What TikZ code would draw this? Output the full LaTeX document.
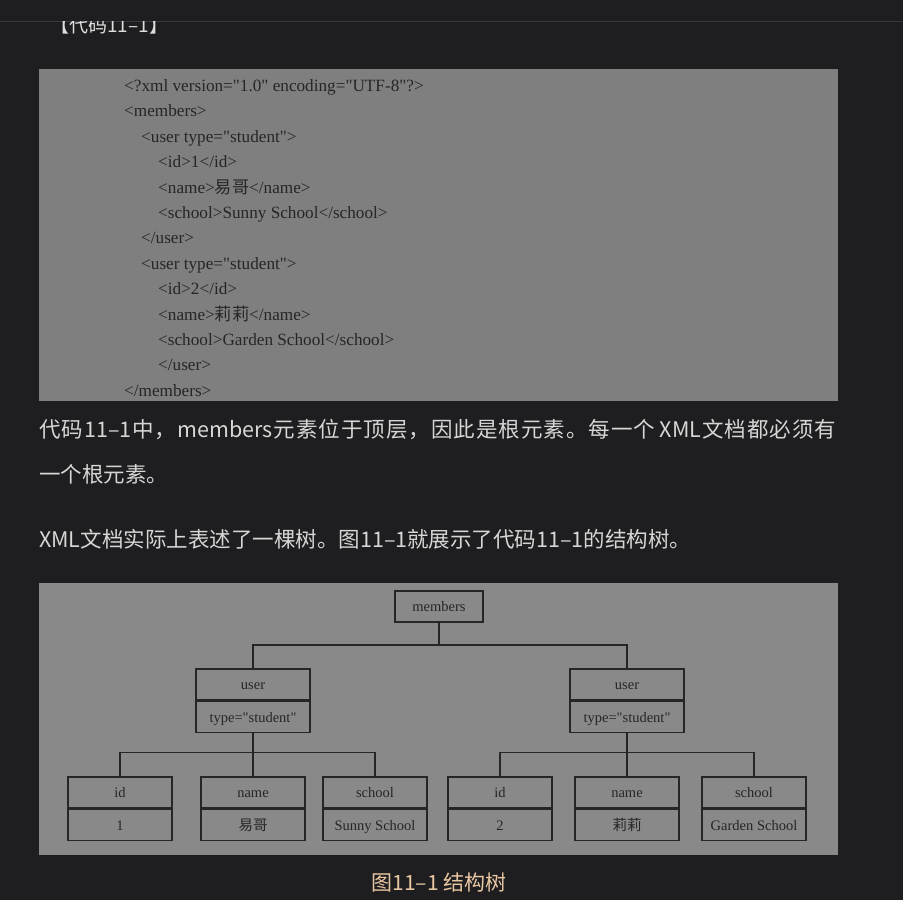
\documentclass[tikz,border=0pt]{standalone}
\usepackage{fontspec}
\setmainfont{Liberation Serif}
\newfontfamily\plainserif{Liberation Serif}
\newfontfamily\cjk{Noto Sans CJK SC}
\newcommand{\dq}{\char34\relax}
\newcommand{\js}{\hskip 0pt plus 1fil\relax}
\definecolor{pagebg}{HTML}{1E1E20}
\definecolor{codebg}{HTML}{7F7F7F}
\definecolor{figbg}{HTML}{898989}
\definecolor{ink}{HTML}{262626}
\definecolor{bodytext}{HTML}{D6D6D6}
\definecolor{captext}{HTML}{EAC7A3}
\definecolor{rulecol}{HTML}{3A3A3C}
\begin{document}
\begin{tikzpicture}[x=1pt,y=-1pt,
  codeline/.style={anchor=base west, inner sep=0pt, font=\plainserif\fontsize{17.2}{19}\selectfont, text=ink},
  bodyline/.style={anchor=base west, inner sep=0pt, font=\cjk\fontsize{21.5}{24}\selectfont, text=bodytext},
  cell/.style={draw=ink, line width=1.4pt, minimum height=31pt, inner sep=0pt, text height=11pt, text depth=0.5pt, font=\plainserif\fontsize{14.5}{16}\selectfont, text=ink},
  leafcell/.style={cell, minimum width=104pt},
  usercell/.style={cell, minimum width=114pt},
  link/.style={draw=ink, line width=1.1pt}]
% page
\fill[pagebg] (0,0) rectangle (903,900);
\useasboundingbox (0,0) rectangle (903,900);
\draw[rulecol, line width=1pt] (0,21) -- (903,21);
\begin{scope}
  \clip (0,21.6) rectangle (903,60);
  \node[anchor=base west, inner sep=0pt, font=\cjk\fontsize{19}{22}\selectfont, text=bodytext!80!white] (hdr) at (50,32.5) {【代码11–1】};
\end{scope}
% code block
\fill[codebg] (39,69) rectangle (838,401);
\node[codeline] (c0) at (124,91.5) {<?xml version="1.0" encoding="UTF-8"?>};
\node[codeline] (c1) at (124,116.9) {<members>};
\node[codeline] (c2) at (141,142.3) {<user type="student">};
\node[codeline] (c3) at (158,167.7) {<id>1</id>};
\node[codeline] (c4) at (158,193.1) {<name>{\cjk 易哥}</name>};
\node[codeline] (c5) at (158,218.5) {<school>Sunny School</school>};
\node[codeline] (c6) at (141,243.9) {</user>};
\node[codeline] (c7) at (141,269.3) {<user type="student">};
\node[codeline] (c8) at (158,294.7) {<id>2</id>};
\node[codeline] (c9) at (158,320.1) {<name>{\cjk 莉莉}</name>};
\node[codeline] (c10) at (158,345.5) {<school>Garden School</school>};
\node[codeline] (c11) at (158,370.9) {</user>};
\node[codeline] (c12) at (124,396.3) {</members>};
% body text
\node[bodyline] (p1) at (39,437) {\makebox[797pt][s]{代\js 码\js 11–1\js 中\js ，\js members\js 元\js 素\js 位\js 于\js 顶\js 层\js ，\js 因\js 此\js 是\js 根\js 元\js 素\js 。\js 每\js 一\js 个 XML\js 文\js 档\js 都\js 必\js 须\js 有}};
\node[bodyline] (p2) at (39,482) {一个根元素。};
\node[bodyline] (p3) at (39,547) {XML文档实际上表述了一棵树。图11–1就展示了代码11–1的结构树。};
% figure
\fill[figbg] (39,583) rectangle (838,855);
\node[cell, minimum width=88pt] (members) at (439,606.5) {members};
\node[usercell] (u1) at (253,684.5) {user};
\node[usercell, anchor=north] (u1t) at (u1.south) {type="student"};
\node[usercell] (u2) at (627,684.5) {user};
\node[usercell, anchor=north] (u2t) at (u2.south) {type="student"};
% leaves of user 1
\node[leafcell] (id1) at (120,792.5) {id};
\node[leafcell, anchor=north] (id1v) at (id1.south) {1};
\node[leafcell] (nm1) at (253,792.5) {name};
\node[leafcell, anchor=north] (nm1v) at (nm1.south) {\cjk 易哥};
\node[leafcell] (sc1) at (375,792.5) {school};
\node[leafcell, anchor=north] (sc1v) at (sc1.south) {Sunny School};
% leaves of user 2
\node[leafcell] (id2) at (500,792.5) {id};
\node[leafcell, anchor=north] (id2v) at (id2.south) {2};
\node[leafcell] (nm2) at (627,792.5) {name};
\node[leafcell, anchor=north] (nm2v) at (nm2.south) {\cjk 莉莉};
\node[leafcell] (sc2) at (754,792.5) {school};
\node[leafcell, anchor=north] (sc2v) at (sc2.south) {Garden School};
% connectors
\coordinate (j0) at (439,645);
\coordinate (j1) at (253,752.5);
\coordinate (j2) at (627,752.5);
\draw[link] (members.south) -- (j0);
\draw[link] (u1.north) |- (j0) -| (u2.north);
\draw[link] (u1t.south) -- (nm1.north);
\draw[link] (id1.north) |- (j1) -| (sc1.north);
\draw[link] (u2t.south) -- (nm2.north);
\draw[link] (id2.north) |- (j2) -| (sc2.north);
% caption
\node[anchor=base, inner sep=0pt, font=\cjk\fontsize{21}{24}\selectfont, text=captext] (cap) at (439,890) {图11–1 结构树};
\end{tikzpicture}
\end{document}
